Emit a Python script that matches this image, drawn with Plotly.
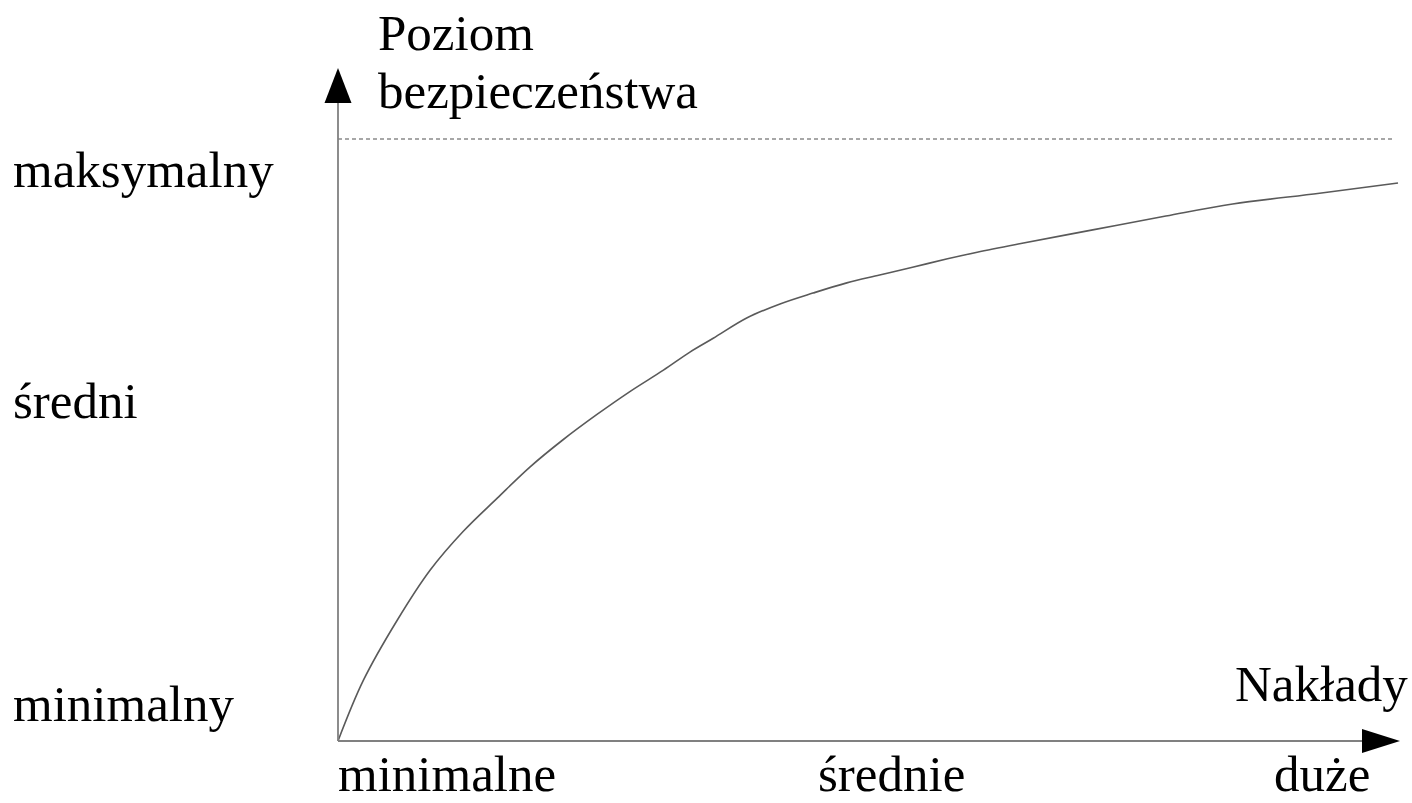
import plotly.graph_objects as go

# ---------------- data ----------------
# Nakłady (x, arbitrary units 0..10) vs Poziom bezpieczeństwa (y, 0 = minimalny, 10 = maksymalny)
naklady = [0.00, 0.24, 0.56, 0.87, 1.18, 1.50, 1.81, 2.12, 2.44, 2.75, 3.07, 3.32,
           3.54, 3.86, 4.17, 4.48, 4.80, 5.11, 5.42, 5.75, 6.03, 6.43, 7.12, 7.81,
           8.44, 9.26, 10.00]
poziom = [0.00, 1.01, 2.01, 2.84, 3.48, 4.03, 4.55, 5.00, 5.42, 5.80, 6.16, 6.46,
          6.69, 7.03, 7.26, 7.44, 7.61, 7.74, 7.87, 8.01, 8.12, 8.26, 8.49, 8.72,
          8.92, 9.10, 9.27]
max_level = 10.0
max_line_x = [0.0, 9.95]

y_level_labels = ["maksymalny", "średni", "minimalny"]
x_level_labels = ["minimalne", "średnie", "duże"]
y_title = ["Poziom", "bezpieczeństwa"]
x_title = "Nakłady"

# ---------------- layout geometry ----------------
W, H = 1412, 803
X0_PX, Y0_PX = 338, 741          # origin pixel
PX_PER_X, PX_PER_Y = 106.0, 60.2
x_range = [-X0_PX / PX_PER_X, (W - X0_PX) / PX_PER_X]
y_range = [-(H - Y0_PX) / PX_PER_Y, Y0_PX / PX_PER_Y]


def dx(px):
    return (px - X0_PX) / PX_PER_X


def dy(py):
    return (Y0_PX - py) / PX_PER_Y


FONT = dict(family="Liberation Serif, Times New Roman, serif", size=51, color="black")
AXIS_COLOR = "#808080"

fig = go.Figure()

# asymptote (maximum level) dashed line
fig.add_trace(go.Scatter(x=max_line_x, y=[max_level, max_level], mode="lines",
                         line=dict(color="#8a8a8a", width=1.3, dash="4px,3px"),
                         hoverinfo="skip", showlegend=False))

# curve
fig.add_trace(go.Scatter(x=naklady, y=poziom, mode="lines",
                         line=dict(color="#5a5a5a", width=1.6, shape="spline", smoothing=1.0),
                         showlegend=False))

# axes with arrows
x_tip, y_tip = dx(1400), dy(68)
x_head_len, x_head_half = 38 / PX_PER_X, 12 / PX_PER_Y
y_head_len, y_head_half = 35 / PX_PER_Y, 13.5 / PX_PER_X
shapes = [
    dict(type="line", x0=0, y0=0, x1=x_tip - x_head_len, y1=0, xref="x", yref="y",
         line=dict(color=AXIS_COLOR, width=1.8)),
    dict(type="line", x0=0, y0=0, x1=0, y1=y_tip - y_head_len, xref="x", yref="y",
         line=dict(color=AXIS_COLOR, width=1.8)),
    dict(type="path", xref="x", yref="y", fillcolor="black", line=dict(width=0),
         path=f"M{x_tip - x_head_len},{-x_head_half} L{x_tip},0 L{x_tip - x_head_len},{x_head_half} Z"),
    dict(type="path", xref="x", yref="y", fillcolor="black", line=dict(width=0),
         path=f"M{-y_head_half},{y_tip - y_head_len} L0,{y_tip} L{y_head_half},{y_tip - y_head_len} Z"),
]

annotations = []
# y axis title (two lines)
for txt, cy in zip(y_title, [33, 91]):
    annotations.append(dict(text=txt, x=dx(376), y=dy(cy), xref="x", yref="y",
                            xanchor="left", yanchor="middle", showarrow=False, font=FONT))
# y level labels
for txt, cy in zip(y_level_labels, [170, 401, 704]):
    annotations.append(dict(text=txt, x=dx(11), y=dy(cy), xref="x", yref="y",
                            xanchor="left", yanchor="middle", showarrow=False, font=FONT))
# x axis title
annotations.append(dict(text=x_title, x=dx(1233), y=dy(684), xref="x", yref="y",
                        xanchor="left", yanchor="middle", showarrow=False, font=FONT))
# x level labels
for txt, cx in zip(x_level_labels, [447, 891, 1322]):
    annotations.append(dict(text=txt, x=dx(cx), y=dy(774), xref="x", yref="y",
                            xanchor="center", yanchor="middle", showarrow=False, font=FONT))

fig.update_layout(
    width=W, height=H, autosize=False,
    margin=dict(l=0, r=0, t=0, b=0),
    paper_bgcolor="white", plot_bgcolor="white",
    xaxis=dict(range=x_range, visible=False, fixedrange=True),
    yaxis=dict(range=y_range, visible=False, fixedrange=True),
    shapes=shapes, annotations=annotations, showlegend=False,
)

fig.write_html("out.html", config={"displayModeBar": False},
               post_script="document.body.style.margin='0';document.body.style.overflow='hidden';")
